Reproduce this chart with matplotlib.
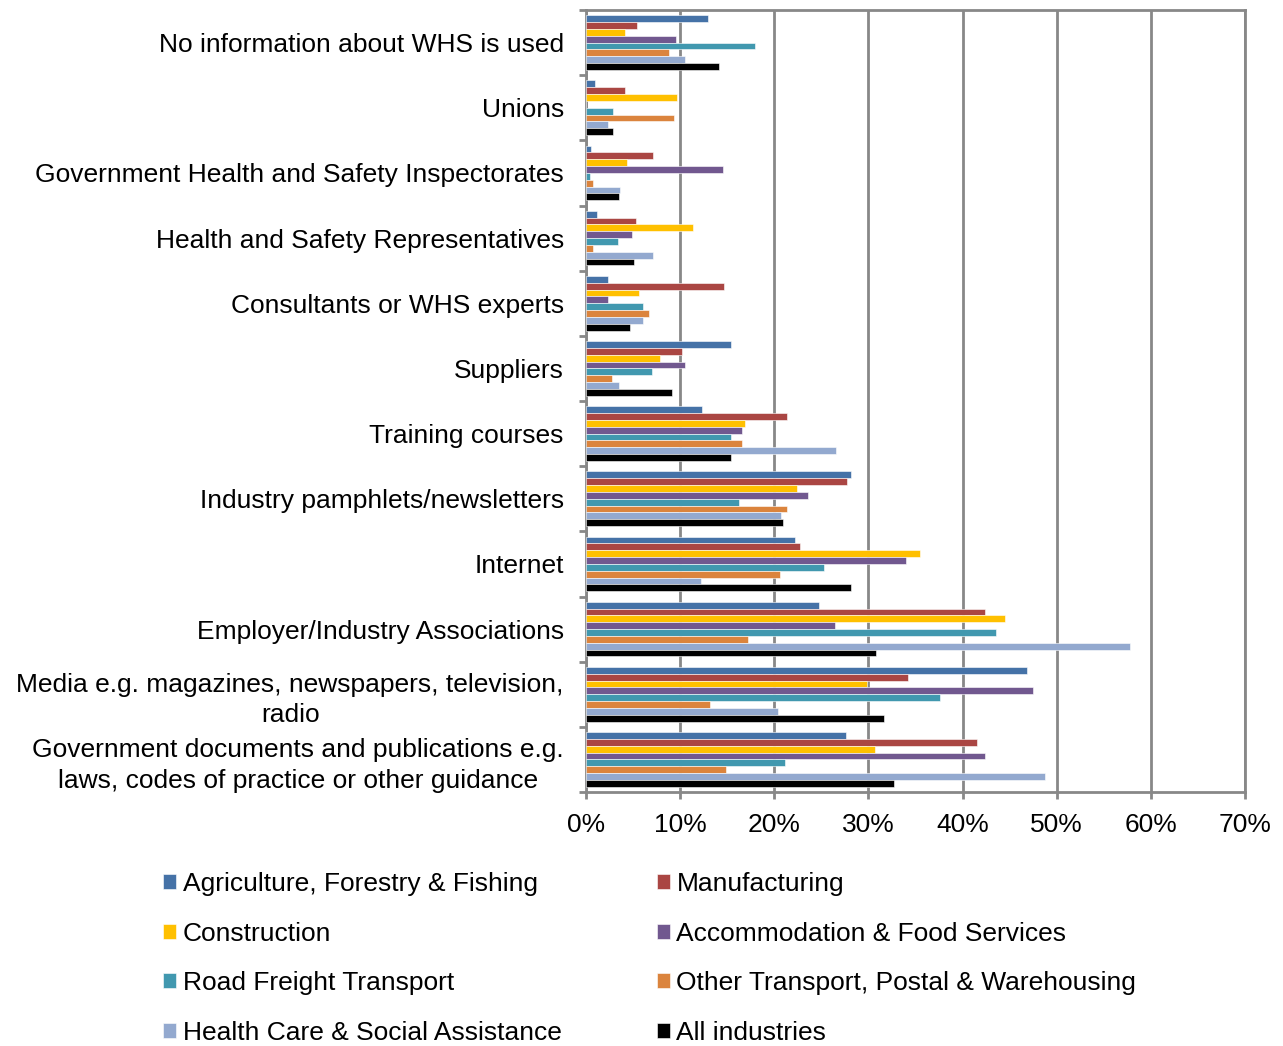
import numpy as np
import matplotlib.pyplot as plt

plt.rcParams['font.family'] = ['Liberation Sans', 'DejaVu Sans']

# sources of WHS information, top to bottom
categories = [
    "No information about WHS is used",
    "Unions",
    "Government Health and Safety Inspectorates",
    "Health and Safety Representatives",
    "Consultants or WHS experts",
    "Suppliers",
    "Training courses",
    "Industry pamphlets/newsletters",
    "Internet",
    "Employer/Industry Associations",
    "Media e.g. magazines, newspapers, television,\nradio",
    "Government documents and publications e.g.\nlaws, codes of practice or other guidance",
]

series_names = [
    "Agriculture, Forestry & Fishing",
    "Manufacturing",
    "Construction",
    "Accommodation & Food Services",
    "Road Freight Transport",
    "Other Transport, Postal & Warehousing",
    "Health Care & Social Assistance",
    "All industries",
]

# percentages per category (same order as categories)
agriculture = [13.0, 1.0, 0.5, 1.2, 2.3, 15.4, 12.3, 28.2, 22.2, 24.8, 46.8, 27.6]
manufacturing = [5.4, 4.1, 7.1, 5.3, 14.7, 10.2, 21.4, 27.7, 22.7, 42.4, 34.2, 41.5]
construction = [4.1, 9.7, 4.4, 11.4, 5.6, 7.9, 16.9, 22.4, 35.5, 44.5, 29.9, 30.7]
accommodation = [9.6, 0.0, 14.5, 4.9, 2.3, 10.5, 16.6, 23.6, 34.0, 26.5, 47.5, 42.4]
road_freight = [18.0, 2.9, 0.4, 3.4, 6.1, 7.0, 15.4, 16.3, 25.3, 43.5, 37.6, 21.1]
other_transport = [8.8, 9.3, 0.7, 0.7, 6.7, 2.8, 16.6, 21.4, 20.6, 17.2, 13.2, 14.9]
health_care = [10.5, 2.3, 3.6, 7.1, 6.1, 3.5, 26.6, 20.7, 12.2, 57.8, 20.4, 48.8]
all_industries = [14.1, 2.9, 3.5, 5.1, 4.7, 9.1, 15.4, 20.9, 28.1, 30.8, 31.7, 32.7]

series = [agriculture, manufacturing, construction, accommodation,
          road_freight, other_transport, health_care, all_industries]
colors = ["#4572A7", "#AA4643", "#FFC000", "#71588F",
          "#4198AF", "#DB843D", "#93A9CF", "#000000"]

fig = plt.figure(figsize=(12.83, 10.46), dpi=100)
ax = fig.add_axes([586 / 1283, 1 - 792 / 1046, (1245 - 586) / 1283, (792 - 10) / 1046])

y = np.arange(len(categories))
slot = 0.105
handles = []
for i, (vals, col) in enumerate(zip(series, colors)):
    offset = (i - 3.5) * slot
    b = ax.barh(y + offset, vals, height=slot, color=col, edgecolor="white",
                linewidth=0.4, label=series_names[i], zorder=3)
    handles.append(b)

ax.set_xlim(0, 70)
ax.set_ylim(len(categories) - 0.5, -0.5)
ax.set_xticks(np.arange(0, 71, 10))
ax.set_xticklabels([f"{v}%" for v in range(0, 71, 10)])

# category labels centred in each band, ticks at band boundaries
ax.set_yticks(y)
ax.set_yticklabels(categories)
for lab in ax.get_yticklabels():
    lab.set_multialignment("center")
    lab.set_linespacing(1.35)
ax.set_yticks(np.arange(-0.5, len(categories), 1), minor=True)
ax.tick_params(axis="y", which="major", length=0, pad=16, labelsize=19)
ax.tick_params(axis="y", which="minor", length=5, width=2, color="#888888", direction="out")
ax.tick_params(axis="x", length=5, width=2, color="#888888", pad=10, labelsize=19)

ax.grid(axis="x", color="#888888", linewidth=2, zorder=0)
for s in ax.spines.values():
    s.set_color("#888888")
    s.set_linewidth(2)

# legend in two columns, filled row by row
order = [0, 2, 4, 6, 1, 3, 5, 7]
fig.legend([handles[k] for k in order], [series_names[k] for k in order],
           ncol=2, loc="upper left", bbox_to_anchor=(163 / 1283, 1 - 872 / 1046),
           frameon=False, fontsize=19, handlelength=0.5, handleheight=0.5,
           handletextpad=0.25, columnspacing=3.6, labelspacing=0.97,
           borderpad=0, borderaxespad=0)

fig.savefig("out.png", dpi=100)
